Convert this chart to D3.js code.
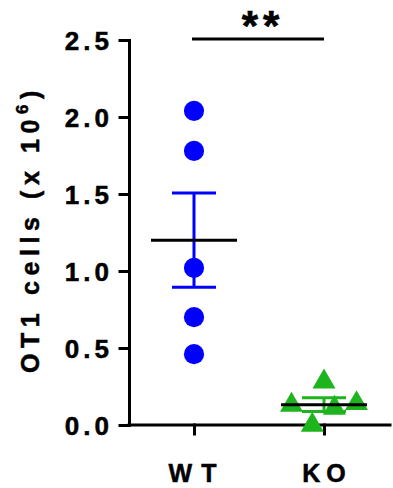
<!DOCTYPE html>
<html>
<head>
<meta charset="utf-8">
<script src="https://cdn.jsdelivr.net/npm/d3@7"></script>
<style>
  body { margin: 0; background: #fff; }
  svg { display: block; }
  text { font-family: "Liberation Sans", Arial, sans-serif; font-weight: bold; fill: #000; }
</style>
</head>
<body>
<svg></svg>
<script>
// groups and the individual points
const groups = ["WT", "KO"];
const wtValues = [2.04, 1.78, 1.02, 0.70, 0.46];
const koValues = [0.28, 0.13, 0.14, 0.11, 0.00];
// horizontal scatter of the KO triangles (fraction of group spacing)
const koJitter = [0.0, -0.25, 0.25, 0.08, -0.09];
const wtJitter = [0, 0, 0, 0, 0];
const yTicks = [0, 0.5, 1.0, 1.5, 2.0, 2.5];
const sigLabel = "**";

const width = 393;
const height = 488;

const svg = d3.select("svg")
    .attr("width", width)
    .attr("height", height);

const x = d3.scalePoint()
    .domain(groups)
    .range([194, 324]);

const y = d3.scaleLinear()
    .domain([0, 2.5])
    .range([425, 40]);

const step = x("KO") - x("WT");

const series = [
    { name: "WT", values: wtValues, jitter: wtJitter, color: "#0000ff", shape: d3.symbolCircle, size: 320 },
    { name: "KO", values: koValues, jitter: koJitter, color: "#1eb41e", shape: d3.symbolTriangle, size: 230 }
];

// axes
const yAxis = svg.append("g")
    .attr("transform", "translate(129,0)")
    .call(d3.axisLeft(y).tickValues(yTicks).tickSize(9).tickSizeOuter(0).tickFormat(d3.format(".1f")));

const xAxis = svg.append("g")
    .attr("transform", `translate(0,${y(0)})`)
    .call(d3.axisBottom(x).tickSize(9).tickSizeOuter(0).tickFormat(""));

xAxis.select(".domain").attr("d", `M129,0H390`);

svg.selectAll(".domain, .tick line")
    .attr("stroke", "#000")
    .attr("stroke-width", 3)
    .attr("stroke-linecap", "square");

yAxis.selectAll(".tick text")
    .attr("x", -16)
    .attr("dy", "0.36em")
    .style("font-size", "26px")
    .style("letter-spacing", "4px")
    .style("stroke", "#000")
    .style("stroke-width", 0.5);

// group labels
svg.selectAll(".glabel")
    .data(groups)
    .enter().append("text")
    .attr("class", "glabel")
    .attr("x", d => x(d) + 3)
    .attr("y", 482)
    .attr("text-anchor", "middle")
    .style("font-size", "25px")
    .style("letter-spacing", d => d == "WT" ? "9px" : "6px")
    .style("stroke", "#000")
    .style("stroke-width", 0.5)
    .text(d => d);

// y title
const title = svg.append("text")
    .attr("transform", "translate(39,229) rotate(-90)")
    .attr("text-anchor", "middle")
    .style("font-size", "25px")
    .style("letter-spacing", "5.6px")
    .style("stroke", "#000")
    .style("stroke-width", 0.5);
title.append("tspan").text("OT1 cells (x 10");
title.append("tspan").attr("dy", -11).style("font-size", "17px").text("6");
title.append("tspan").attr("dy", 11).text(")");

// points, mean and SEM
series.forEach(s => {
    const cx = x(s.name);
    const mean = d3.mean(s.values);
    const sem = d3.deviation(s.values) / Math.sqrt(s.values.length);

    svg.selectAll(null)
        .data(s.values)
        .enter().append("path")
        .attr("d", d3.symbol().type(s.shape).size(s.size))
        .attr("transform", (d, i) => `translate(${cx + s.jitter[i] * step},${y(d)})`)
        .attr("fill", s.color);

    // error bar
    svg.append("line")
        .attr("x1", cx).attr("x2", cx)
        .attr("y1", y(mean + sem)).attr("y2", y(mean - sem))
        .attr("stroke", s.color).attr("stroke-width", 3);
    [mean + sem, mean - sem].forEach(v => {
        svg.append("line")
            .attr("x1", cx - 22).attr("x2", cx + 22)
            .attr("y1", y(v)).attr("y2", y(v))
            .attr("stroke", s.color).attr("stroke-width", 3);
    });

    // mean line
    svg.append("line")
        .attr("x1", cx - 43).attr("x2", cx + 43)
        .attr("y1", y(mean)).attr("y2", y(mean))
        .attr("stroke", "#000").attr("stroke-width", 3);
});

// significance bar
svg.append("line")
    .attr("x1", x("WT") - 2).attr("x2", x("KO"))
    .attr("y1", 39).attr("y2", 39)
    .attr("stroke", "#000").attr("stroke-width", 3);

svg.append("text")
    .attr("x", (x("WT") + x("KO")) / 2 + 4)
    .attr("y", 40)
    .attr("text-anchor", "middle")
    .style("font-size", "42px")
    .style("letter-spacing", "5px")
    .style("stroke", "#000")
    .style("stroke-width", 0.6)
    .text(sigLabel);
</script>
</body>
</html>
